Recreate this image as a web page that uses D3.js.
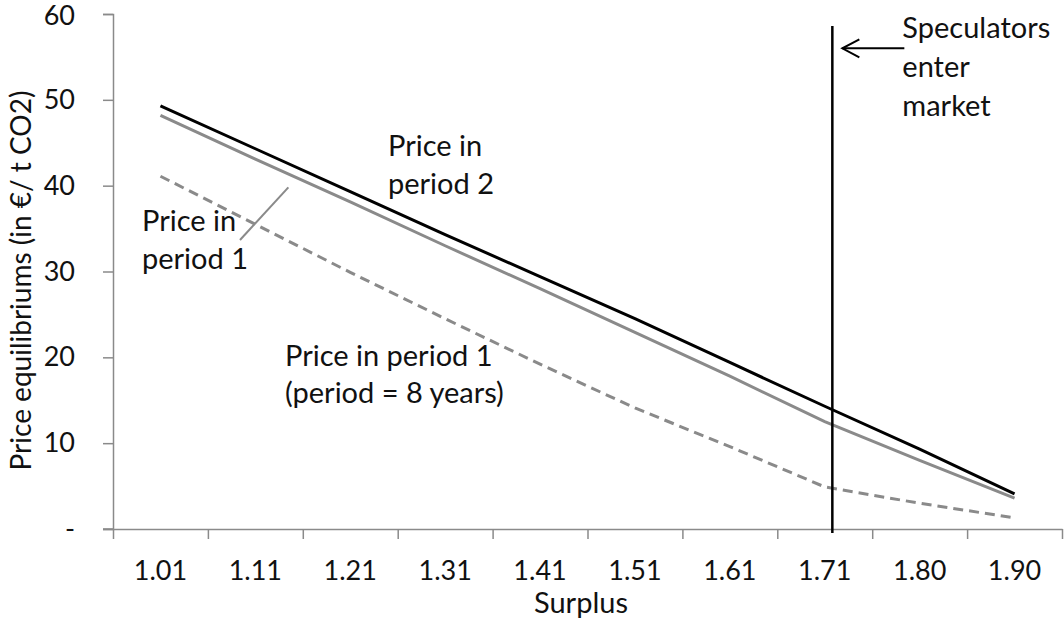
<!DOCTYPE html>
<html>
<head>
<meta charset="utf-8">
<script src="https://cdn.jsdelivr.net/npm/d3@7"></script>
<style>
  html, body { margin: 0; padding: 0; background: #fff; }
  svg text { font-family: Lato, "Open Sans", sans-serif; fill: #111; }
</style>
</head>
<body>
<svg id="chart" width="1064" height="619"></svg>
<script>
// ---- data ----
const categories = ["1.01","1.11","1.21","1.31","1.41","1.51","1.61","1.71","1.80","1.90"];
const pricePeriod2 = [49.3, 44.3, 39.3, 34.3, 29.4, 24.5, 19.4, 14.3, 9.3, 4.1];
const pricePeriod1 = [48.2, 43.1, 38.1, 33.0, 28.0, 22.9, 17.8, 12.5, 8.0, 3.6];
const pricePeriod1Long = [41.1, 35.5, 29.9, 24.5, 19.2, 14.1, 9.6, 4.9, 3.0, 1.3];
const yTicks = [0, 10, 20, 30, 40, 50, 60];
const speculatorsIndex = 7.08; // just right of the "1.71" category centre
const yTitle = "Price equilibriums (in €/ t CO2)";
const xTitle = "Surplus";

(function () {
// ---- layout ----
const svg = d3.select("#chart");
const mLeft = 113, mRight = 1062, mTop = 14, mBottom = 529;
const axisColor = "#8a8a8a";
const tickFont = 27;
const textFont = 29;

const x = d3.scaleBand().domain(categories).range([mLeft, mRight]).padding(0);
const xIdx = d3.scaleLinear().domain([-0.5, categories.length - 0.5]).range([mLeft, mRight]);
const y = d3.scaleLinear().domain([0, 60]).range([mBottom, mTop]);
const cx = c => x(c) + x.bandwidth() / 2;

// y axis
const yAxis = svg.append("g").attr("transform", `translate(${mLeft},0)`)
  .call(d3.axisLeft(y).tickValues(yTicks).tickSize(10).tickPadding(28)
    .tickFormat(d => d === 0 ? "-" : d));
yAxis.select(".domain").attr("stroke", axisColor).attr("stroke-width", 1.5);
yAxis.selectAll(".tick line").attr("stroke", axisColor).attr("stroke-width", 1.5);
yAxis.selectAll(".tick text").attr("font-size", tickFont).attr("fill", "#111")
  .attr("font-family", "Lato, 'Open Sans', sans-serif")
  .attr("dy", d => d === 60 ? "0.4em" : "0.32em");

// x axis: ticks at category boundaries, labels at centres
const boundaries = d3.range(0, categories.length + 1).map(i => i - 0.5);
const xAxis = svg.append("g").attr("transform", `translate(0,${mBottom})`)
  .call(d3.axisBottom(xIdx).tickValues(boundaries).tickSize(10).tickSizeOuter(0).tickFormat(""));
xAxis.select(".domain").attr("stroke", axisColor).attr("stroke-width", 1.5);
xAxis.selectAll(".tick line").attr("stroke", axisColor).attr("stroke-width", 1.5);
svg.append("line").attr("x1", mLeft - 10).attr("x2", mLeft).attr("y1", mBottom).attr("y2", mBottom)
  .attr("stroke", axisColor).attr("stroke-width", 1.5);

svg.append("g").selectAll("text").data(categories).join("text")
  .attr("x", d => cx(d)).attr("y", 580)
  .attr("text-anchor", "middle").attr("font-size", tickFont).text(d => d);

svg.append("text").attr("x", 581).attr("y", 613)
  .attr("text-anchor", "middle").attr("font-size", textFont).text(xTitle);

svg.append("text").attr("transform", `translate(31,${(mTop + mBottom) / 2 + 9}) rotate(-90)`)
  .attr("text-anchor", "middle").attr("font-size", 28).text(yTitle);

// lines
const line = d3.line().x((d, i) => cx(categories[i])).y(d => y(d));
svg.append("path").datum(pricePeriod1Long).attr("d", line).attr("fill", "none")
  .attr("stroke", "#8a8a8a").attr("stroke-width", 3).attr("stroke-dasharray", "10,6");
svg.append("path").datum(pricePeriod1).attr("d", line).attr("fill", "none")
  .attr("stroke", "#8a8a8a").attr("stroke-width", 3);
svg.append("path").datum(pricePeriod2).attr("d", line).attr("fill", "none")
  .attr("stroke", "#000").attr("stroke-width", 3);

// vertical "speculators" line
const vx = xIdx(speculatorsIndex);
svg.append("line").attr("x1", vx).attr("x2", vx).attr("y1", y(58.6)).attr("y2", mBottom + 4)
  .attr("stroke", "#000").attr("stroke-width", 2.5);

// arrow
const ay = y(56);
svg.append("line").attr("x1", vx + 72).attr("x2", vx + 10).attr("y1", ay).attr("y2", ay)
  .attr("stroke", "#000").attr("stroke-width", 2);
svg.append("path")
  .attr("d", `M${vx + 27},${ay - 9} L${vx + 10},${ay} L${vx + 27},${ay + 9}`)
  .attr("fill", "none").attr("stroke", "#000").attr("stroke-width", 2);

// annotations
function multiline(xp, yp, lines, gap) {
  const t = svg.append("text").attr("x", xp).attr("y", yp).attr("font-size", textFont);
  lines.forEach((l, i) => t.append("tspan").attr("x", xp).attr("dy", i === 0 ? 0 : gap).text(l));
}
multiline(vx + 70, 38, ["Speculators", "enter", "market"], 39);
multiline(388, 156, ["Price in", "period 2"], 38);
multiline(142, 231, ["Price in", "period 1"], 38);
multiline(285, 366, ["Price in period 1", "(period = 8 years)"], 37);

// leader line for left "Price in period 1"
svg.append("line").attr("x1", 240).attr("y1", 240).attr("x2", cx("1.11") + 33).attr("y2", y(39.8))
  .attr("stroke", "#8a8a8a").attr("stroke-width", 2);
})();
</script>
</body>
</html>
